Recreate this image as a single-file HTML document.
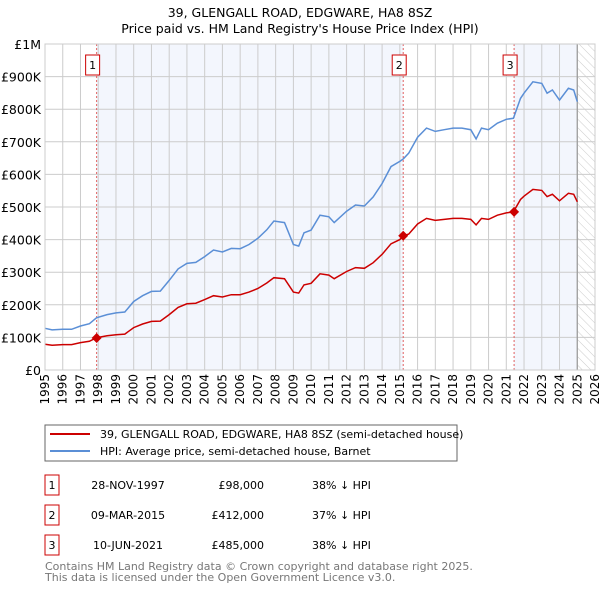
<!DOCTYPE html>
<html><head><meta charset="utf-8"><style>
body{margin:0;background:#fff;font-family:"DejaVu Sans","Liberation Sans",sans-serif;}
svg text{font-family:"DejaVu Sans","Liberation Sans",sans-serif;}
</style></head><body>
<svg id="chart" width="600" height="590" viewBox="0 0 600 590">
<defs><pattern id="hatch" width="6" height="6" patternUnits="userSpaceOnUse" patternTransform="rotate(-45)"><line x1="0" y1="0" x2="0" y2="6" stroke="#ccc" stroke-width="1"/></pattern></defs>
<text x="300" y="17" text-anchor="middle" font-size="12.5" fill="#000">39, GLENGALL ROAD, EDGWARE, HA8 8SZ</text>
<text x="300" y="33" text-anchor="middle" font-size="12.5" fill="#000">Price paid vs. HM Land Registry's House Price Index (HPI)</text>
<g id="bg"></g><g id="grid"></g><g id="series"></g><g id="axes"></g>
<rect x="45" y="425" width="412" height="36" fill="#fff" stroke="#666"/>
<line x1="50" y1="434" x2="90" y2="434" stroke="#cc0000" stroke-width="2"/>
<text x="100" y="438" font-size="11">39, GLENGALL ROAD, EDGWARE, HA8 8SZ (semi-detached house)</text>
<line x1="50" y1="451" x2="90" y2="451" stroke="#5b8fd6" stroke-width="2"/>
<text x="100" y="455" font-size="11">HPI: Average price, semi-detached house, Barnet</text>
<g font-size="11" fill="#000">
<rect x="45" y="475" width="14" height="20" fill="#fff" stroke="#cc0000"/><text x="52" y="489" text-anchor="middle">1</text>
<text x="128" y="489" text-anchor="middle">28-NOV-1997</text><text x="264" y="489" text-anchor="end">£98,000</text><text x="312" y="489">38% ↓ HPI</text>
<rect x="45" y="505" width="14" height="20" fill="#fff" stroke="#cc0000"/><text x="52" y="519" text-anchor="middle">2</text>
<text x="128" y="519" text-anchor="middle">09-MAR-2015</text><text x="264" y="519" text-anchor="end">£412,000</text><text x="312" y="519">37% ↓ HPI</text>
<rect x="45" y="535" width="14" height="20" fill="#fff" stroke="#cc0000"/><text x="52" y="549" text-anchor="middle">3</text>
<text x="128" y="549" text-anchor="middle">10-JUN-2021</text><text x="264" y="549" text-anchor="end">£485,000</text><text x="312" y="549">38% ↓ HPI</text>
</g>
<text x="45" y="570" font-size="11" fill="#777">Contains HM Land Registry data © Crown copyright and database right 2025.</text>
<text x="45" y="581" font-size="11" fill="#777">This data is licensed under the Open Government Licence v3.0.</text>
</svg>
<script>
const years=[1995.0,1995.4,1996.0,1996.5,1997.0,1997.5,1997.9,1998.5,1999.0,1999.5,2000.0,2000.5,2001.0,2001.5,2002.0,2002.5,2003.0,2003.5,2004.0,2004.5,2005.0,2005.5,2006.0,2006.5,2007.0,2007.5,2007.9,2008.5,2009.0,2009.3,2009.6,2010.0,2010.5,2011.0,2011.3,2012.0,2012.5,2013.0,2013.5,2014.0,2014.5,2015.0,2015.2,2015.5,2016.0,2016.5,2017.0,2017.5,2018.0,2018.5,2019.0,2019.3,2019.6,2020.0,2020.5,2021.0,2021.4,2021.8,2022.0,2022.5,2023.0,2023.3,2023.6,2024.0,2024.5,2024.8,2025.0];
const hpiValues=[128,123,125,125,135,142,160,170,175,178,210,228,241,242,275,310,327,330,348,368,362,373,372,385,404,430,457,452,385,380,421,429,475,470,452,487,506,503,531,572,624,640,648,665,714,742,732,737,742,742,737,709,742,737,757,769,772,833,849,884,879,849,859,828,864,859,823];
const propertyValues=[79,76,78,78,84,88,99,105,108,110,130,141,149,150,170,192,203,205,216,228,224,231,231,239,250,267,283,280,239,236,261,266,295,291,280,302,314,312,329,355,387,400,412,417,448,465,459,462,465,465,462,445,465,462,475,482,485,523,533,554,551,532,539,519,542,539,516];
const saleYears=[1997.91,2015.19,2021.44];
const salePrices=[98,412,485];
const saleLabels=["1","2","3"];
const yTickValues=[0,100,200,300,400,500,600,700,800,900,1000];
const yTickLabels=["£0","£100K","£200K","£300K","£400K","£500K","£600K","£700K","£800K","£900K","£1M"];
const xTickYears=[1995,1996,1997,1998,1999,2000,2001,2002,2003,2004,2005,2006,2007,2008,2009,2010,2011,2012,2013,2014,2015,2016,2017,2018,2019,2020,2021,2022,2023,2024,2025,2026];
const dataEnd=2025.0;
const L=45,R=595,T=44,B=370;
const xs=y=>L+(y-1995)*(R-L)/31;
const ys=v=>B-v*(B-T)/1000;
const NS="http://www.w3.org/2000/svg";
function mk(parent,tag,attrs){const e=document.createElementNS(NS,tag);for(const k in attrs)e.setAttribute(k,attrs[k]);document.getElementById(parent).appendChild(e);return e;}
let e=mk('bg','rect',{x:L,y:T,width:R-L,height:B-T,fill:'#fff'});


e=mk('bg','rect',{x:xs(saleYears[0]),y:T,width:xs(saleYears[1])-xs(saleYears[0]),height:B-T,fill:'#f3f6fd'});


e=mk('bg','rect',{x:xs(saleYears[2]),y:T,width:xs(dataEnd)-xs(saleYears[2]),height:B-T,fill:'#f3f6fd'});


e=mk('bg','rect',{x:xs(dataEnd),y:T,width:R-xs(dataEnd),height:B-T,fill:'url(#hatch)'});


yTickValues.forEach((v,i)=>{
 let g=mk('grid','line',{x1:L,x2:R,y1:ys(v),y2:ys(v),stroke:'#ccc','stroke-width':1});
 
 
 let t=mk('axes','text',{x:L-4,y:ys(v)+5,'text-anchor':'end','font-size':'12.5',fill:'#000'});
 
 
 t.textContent=yTickLabels[i];
});
xTickYears.forEach(yr=>{
 let g=mk('grid','line',{x1:xs(yr),x2:xs(yr),y1:T,y2:B,stroke:'#ccc','stroke-width':1});
 
 
 let t=mk('axes','text',{x:0,y:0,'text-anchor':'end','font-size':'12',fill:'#000',transform:`translate(${xs(yr)+4},${B+4}) rotate(-90)`});
 
 
 t.textContent=yr;
});
e=mk('grid','line',{x1:xs(dataEnd),x2:xs(dataEnd),y1:T,y2:B,stroke:'#999','stroke-width':1.2});


saleYears.forEach((yr,i)=>{
 let l=mk('series','line',{x1:xs(yr),x2:xs(yr),y1:T,y2:B,stroke:'#e06060','stroke-width':1,'stroke-dasharray':'2,2'});
 
 
 let r=mk('series','rect',{x:xs(yr)-11,y:T+11,width:14,height:20,fill:'#fff',stroke:'#cc0000'});
 
 
 let t=mk('series','text',{x:xs(yr)-4,y:T+25,'text-anchor':'middle','font-size':'11'});
 
 
 t.textContent=saleLabels[i];
});
function path(vals){return vals.map((v,i)=>(i?'L':'M')+xs(years[i]).toFixed(1)+','+ys(v).toFixed(1)).join('');}
e=mk('series','path',{d:path(hpiValues),fill:'none',stroke:'#5b8fd6','stroke-width':1.5});


e=mk('series','path',{d:path(propertyValues),fill:'none',stroke:'#cc0000','stroke-width':1.5});


saleYears.forEach((yr,i)=>{
 const cx=xs(yr),cy=ys(salePrices[i]);
 let p=mk('series','path',{d:`M${cx-5},${cy}L${cx},${cy-5}L${cx+5},${cy}L${cx},${cy+5}Z`,fill:'#cc0000'});
 
 
});
e=mk('axes','rect',{x:L,y:T,width:R-L,height:B-T,fill:'none',stroke:'#ccc'});


</script>
</body></html>
